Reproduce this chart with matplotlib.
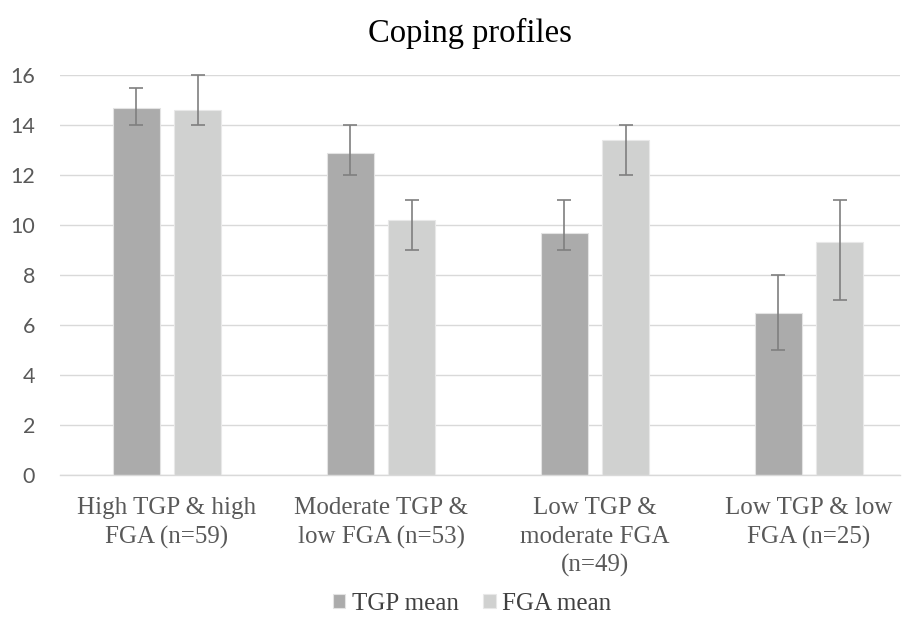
import numpy as np
import matplotlib
matplotlib.use("Agg")
import matplotlib.pyplot as plt

categories = ["High TGP & high\nFGA (n=59)", "Moderate TGP &\nlow FGA (n=53)",
              "Low TGP &\nmoderate FGA\n(n=49)", "Low TGP & low\nFGA (n=25)"]
tgp_mean = [14.7, 12.9, 9.7, 6.5]
tgp_low = [14.0, 12.0, 9.0, 5.0]
tgp_high = [15.5, 14.0, 11.0, 8.0]
fga_mean = [14.6, 10.2, 13.4, 9.3]
fga_low = [14.0, 9.0, 12.0, 7.0]
fga_high = [16.0, 11.0, 14.0, 11.0]

fig = plt.figure(figsize=(9.06, 6.18), dpi=100)
ax = fig.add_axes([60 / 906, 143 / 618, 840 / 906, 400 / 618])

x = np.arange(len(categories))
w = 0.22
off = 0.143

tgp_err = [np.array(tgp_mean) - np.array(tgp_low), np.array(tgp_high) - np.array(tgp_mean)]
fga_err = [np.array(fga_mean) - np.array(fga_low), np.array(fga_high) - np.array(fga_mean)]

ax.bar(x - off, tgp_mean, w, color="#ababab", edgecolor="#e3e3e3", linewidth=0.8,
       label="TGP mean", zorder=2)
ax.bar(x + off, fga_mean, w, color="#d0d1d0", edgecolor="#e8e8e8", linewidth=0.8,
       label="FGA mean", zorder=2)
ax.errorbar(x - off, tgp_mean, yerr=tgp_err, fmt="none", ecolor="#7f7f7f",
            elinewidth=1.2, capsize=5, capthick=1.2, zorder=3, clip_on=False)
ax.errorbar(x + off, fga_mean, yerr=fga_err, fmt="none", ecolor="#7f7f7f",
            elinewidth=1.2, capsize=5, capthick=1.2, zorder=3, clip_on=False)

ax.set_ylim(0, 16)
ax.set_xlim(-0.5, 3.425)
ax.set_yticks(range(0, 17, 2))
ax.yaxis.grid(True, color="#d9d9d9", linewidth=1, zorder=0)
ax.set_axisbelow(True)
for s in ["top", "right", "left"]:
    ax.spines[s].set_visible(False)
ax.spines["bottom"].set_color("#d9d9d9")
ax.spines["bottom"].set_linewidth(1)
ax.tick_params(axis="both", length=0)
ax.tick_params(axis="y", pad=18, labelcolor="#595959", labelsize=15.5)
for lab in ax.get_yticklabels():
    lab.set_fontfamily("Lato")
ax.set_xticks(x)
ax.set_xticklabels(categories, fontfamily="Liberation Serif", fontsize=18,
                   color="#595959", linespacing=1.38)
ax.tick_params(axis="x", pad=16)

fig.text(470 / 906, 1 - 33 / 618, "Coping profiles", ha="center", va="center",
         fontfamily="Liberation Serif", fontsize=23.5, color="#000000")

leg = fig.legend(loc="center", bbox_to_anchor=(472 / 906, 1 - 604 / 618), ncol=2, frameon=False,
                 prop={"family": "Liberation Serif", "size": 18},
                 handlelength=0.5, handleheight=0.5, handletextpad=0.25, columnspacing=1.0,
                 borderpad=0.1)
for t in leg.get_texts():
    t.set_color("#404040")

fig.savefig("out.png", dpi=100)
